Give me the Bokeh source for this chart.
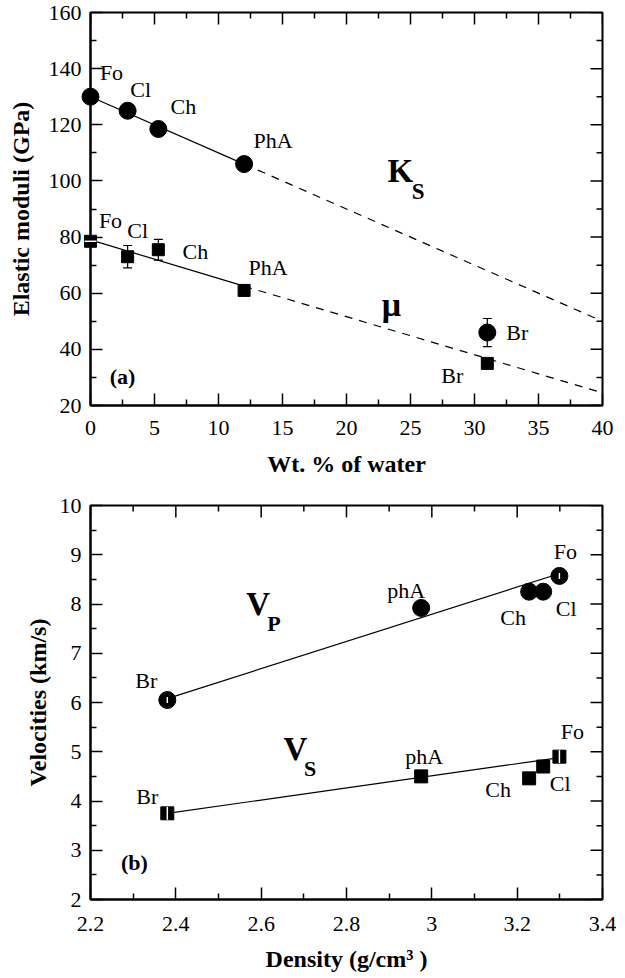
import numpy as np
from bokeh.plotting import figure
from bokeh.models import (ColumnDataSource, FixedTicker, Whisker, TeeHead, Range1d)
from bokeh.layouts import column
from bokeh.embed import file_html
from bokeh.resources import INLINE
from bokeh.core.properties import value

FONT = "Liberation Serif"

# ---------------- data: panel (a) ----------------
minerals_a = ["Fo", "Cl", "Ch", "PhA", "Br"]
water_wt = [0.0, 2.9, 5.3, 12.0, 31.0]
ks_gpa = [130.0, 125.0, 118.5, 106.0, 46.0]
ks_err = [0.0, 0.0, 0.0, 0.0, 5.0]
mu_gpa = [78.5, 73.0, 75.5, 61.0, 35.0]
mu_err = [0.0, 4.0, 3.7, 0.0, 0.0]
fit_water = [0.0, 12.0, 40.0]
ks_fit = [130.0, 106.0, 50.0]
mu_fit = [79.0, 62.5, 24.5]

# ---------------- data: panel (b) ----------------
minerals_b = ["Br", "phA", "Ch", "Cl", "Fo"]
density = [2.38, 2.975, 3.228, 3.261, 3.299]
vp_kms = [6.05, 7.92, 8.25, 8.25, 8.57]
vs_kms = [3.75, 4.50, 4.46, 4.70, 4.90]
fit_density = [2.38, 3.30]
vp_fit = [6.08, 8.62]
vs_fit = [3.75, 4.88]

# ---------------- ticks ----------------
xticks_a = [0, 5, 10, 15, 20, 25, 30, 35, 40]
yticks_a = [20, 40, 60, 80, 100, 120, 140, 160]
xticks_b = [2.2, 2.4, 2.6, 2.8, 3.0, 3.2, 3.4]
xlabels_b = ["2.2", "2.4", "2.6", "2.8", "3", "3.2", "3.4"]
yticks_b = [2, 3, 4, 5, 6, 7, 8, 9, 10]

# label pixel offsets (screen units) relative to each point
ks_off = dict(dx=[21, 13, 25, 29, 30], dy=[-24, -21, -22, -24, 0])
mu_off = dict(dx=[20, 10, 37, 24, -35], dy=[-21, -26, 2, -23, 12])
vp_off = dict(dx=[-21, -15, -16, 23, 6], dy=[-20, -17, 26, 17, -24])
vs_off = dict(dx=[-20, 3, -31, 17, 13], dy=[-17, -20, 11, 17, -25])

# points whose symbol shows a thin white error-bar stroke
mu_marked = [0]
vp_marked = [0, 4]
vs_marked = [0, 4]

FRAME_W = 512
MAJ_LEN, MIN_LEN = 12, 6


def minors(ticks, n):
    out = []
    for a, b in zip(ticks[:-1], ticks[1:]):
        step = (b - a) / n
        out += [a + k * step for k in range(1, n)]
    return out


def style_axis(ax, major, minor, overrides=None):
    ax.ticker = FixedTicker(ticks=major, minor_ticks=minor)
    ax.major_tick_in = MAJ_LEN
    ax.major_tick_out = 0
    ax.minor_tick_in = MIN_LEN
    ax.minor_tick_out = 0
    ax.axis_line_width = 2
    ax.major_tick_line_width = 1.5
    ax.minor_tick_line_width = 1.5
    ax.axis_line_color = "black"
    ax.major_label_text_font = FONT
    ax.major_label_text_font_size = "22px"
    ax.major_label_text_color = "black"
    ax.axis_label_text_font = FONT
    ax.axis_label_text_font_style = "bold"
    ax.axis_label_text_font_size = "24px"
    ax.axis_label_text_color = "black"
    if overrides:
        ax.major_label_overrides = overrides


def mirror_ticks(p, xt, xm, yt, ym, xr, yr, fh):
    # tick marks on the top and right frame edges, pointing inward
    ppx = (xr[1] - xr[0]) / FRAME_W
    ppy = (yr[1] - yr[0]) / fh
    for ticks, ln in ((xt, MAJ_LEN), (xm, MIN_LEN)):
        n = len(ticks)
        p.segment(x0=ticks, y0=[yr[1]] * n, x1=ticks, y1=[yr[1] - ln * ppy] * n,
                  line_color="black", line_width=1.5)
    for ticks, ln in ((yt, MAJ_LEN), (ym, MIN_LEN)):
        n = len(ticks)
        p.segment(x0=[xr[1]] * n, y0=ticks, x1=[xr[1] - ln * ppx] * n, y1=ticks,
                  line_color="black", line_width=1.5)


def make_fig(height, xr, yr, bt, fh, xt, yt, xlabel, ylabel, xts, xls, yls, xover=None):
    p = figure(width=616, height=height, x_range=Range1d(*xr), y_range=Range1d(*yr),
               output_backend="svg", toolbar_location=None,
               min_border_left=90, min_border_right=616 - 90 - FRAME_W,
               min_border_top=bt, min_border_bottom=height - bt - fh)
    p.xgrid.visible = False
    p.ygrid.visible = False
    p.outline_line_color = "black"
    p.outline_line_width = 2
    p.background_fill_color = "white"
    p.border_fill_color = "white"
    xm = minors(xt, 2)
    ym = minors(yt, 2)
    style_axis(p.xaxis[0], xt, xm, overrides=xover)
    style_axis(p.yaxis[0], yt, ym)
    p.xaxis[0].axis_label = xlabel
    p.yaxis[0].axis_label = ylabel
    p.xaxis[0].major_label_standoff = xts
    p.yaxis[0].major_label_standoff = 9
    p.xaxis[0].axis_label_standoff = xls
    p.yaxis[0].axis_label_standoff = yls
    mirror_ticks(p, xt, xm, yt, ym, xr, yr, fh)
    return p


def add_labels(p, xs, ys, names, off):
    src = ColumnDataSource(dict(x=xs, y=ys, t=names, dx=off["dx"], dy=off["dy"]))
    p.text(x="x", y="y", text="t", x_offset="dx", y_offset="dy", source=src,
           text_font=value(FONT), text_font_size="22px", text_color="black",
           text_align="center", text_baseline="middle")


def note(p, x, y, t, size, bold=True):
    p.text(x=[x], y=[y], text=[t], text_font=value(FONT),
           text_font_style="bold" if bold else "normal",
           text_font_size=size, text_color="black",
           text_align="center", text_baseline="middle")


def white_stroke(p, xs, ys, idx, size, angle):
    p.scatter([xs[i] for i in idx], [ys[i] for i in idx], marker="dash", size=size,
              angle=angle, line_color="white", line_width=1.5, level="overlay")


# ---------------- panel (a) ----------------
H1, FH1 = 490, 393
p1 = make_fig(H1, (0, 40), (20, 160), 12, FH1, xticks_a, yticks_a,
              "Wt. % of water", "Elastic moduli (GPa)", 15, 13, 12)

p1.line(fit_water[:2], ks_fit[:2], line_color="black", line_width=1.2)
p1.line(fit_water[1:], ks_fit[1:], line_color="black", line_width=1.2, line_dash="8 7")
p1.line(fit_water[:2], mu_fit[:2], line_color="black", line_width=1.2)
p1.line(fit_water[1:], mu_fit[1:], line_color="black", line_width=1.2, line_dash="8 7")

ks_e = [(x, y - e, y + e) for x, y, e in zip(water_wt, ks_gpa, ks_err) if e > 0]
mu_e = [(x, y - e, y + e) for x, y, e in zip(water_wt, mu_gpa, mu_err) if e > 0]
err = ks_e + mu_e
esrc = ColumnDataSource(dict(x=[e[0] for e in err], lo=[e[1] for e in err],
                             hi=[e[2] for e in err]))
p1.add_layout(Whisker(source=esrc, base="x", lower="lo", upper="hi", dimension="height",
                      line_color="black", line_width=1.2,
                      upper_head=TeeHead(size=9, line_color="black", line_width=1.2),
                      lower_head=TeeHead(size=9, line_color="black", line_width=1.2)))

p1.scatter(water_wt, ks_gpa, marker="circle", size=17, color="black", level="overlay")
p1.scatter(water_wt, mu_gpa, marker="square", size=12, color="black", level="overlay")
white_stroke(p1, water_wt, mu_gpa, mu_marked, 12, 0.0)

add_labels(p1, water_wt, ks_gpa, minerals_a, ks_off)
add_labels(p1, water_wt, mu_gpa, minerals_a, mu_off)

note(p1, 24.2, 103.7, "K", "33px")
note(p1, 25.6, 96.2, "S", "23px")
note(p1, 23.5, 56.0, "μ", "34px")
note(p1, 2.5, 30.5, "(a)", "22px")

# ---------------- panel (b) ----------------
H2, FH2 = 484, 397
p2 = make_fig(H2, (2.2, 3.4), (2, 10), 15, FH2, xticks_b, yticks_b,
              "Density (g/cm³ )", "Velocities (km/s)", 17, 12, 6,
              xover={t: l for t, l in zip(xticks_b, xlabels_b)})

p2.line(fit_density, vp_fit, line_color="black", line_width=1.2)
p2.line(fit_density, vs_fit, line_color="black", line_width=1.2)
p2.scatter(density, vp_kms, marker="circle", size=17, color="black", level="overlay")
p2.scatter(density, vs_kms, marker="square", size=13, color="black", level="overlay")
white_stroke(p2, density, vp_kms, vp_marked, 6, np.pi / 2)
white_stroke(p2, density, vs_kms, vs_marked, 13, np.pi / 2)

add_labels(p2, density, vp_kms, minerals_b, vp_off)
add_labels(p2, density, vs_kms, minerals_b, vs_off)

note(p2, 2.593, 7.99, "V", "33px")
note(p2, 2.63, 7.6, "P", "22px")
note(p2, 2.68, 5.05, "V", "33px")
note(p2, 2.715, 4.65, "S", "22px")
note(p2, 2.303, 2.75, "(b)", "22px")

layout = column(p1, p2, spacing=0)
open("out.html", "w").write(file_html(layout, INLINE))
